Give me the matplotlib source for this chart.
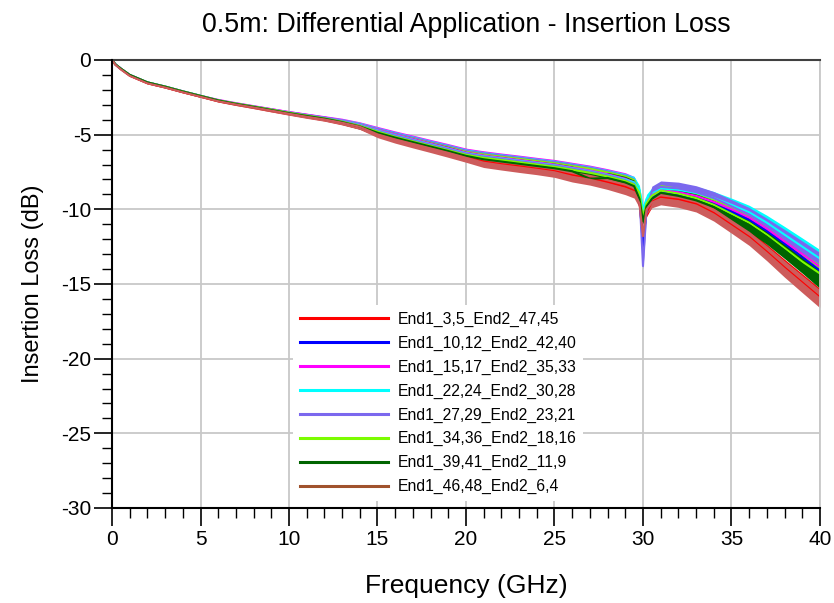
import numpy as np
import matplotlib
matplotlib.use("Agg")
import matplotlib.pyplot as plt
from matplotlib.lines import Line2D
from matplotlib.ticker import MultipleLocator

plt.rcParams['font.family'] = ['Liberation Sans', 'DejaVu Sans']
plt.rcParams['axes.unicode_minus'] = False

# frequency points (GHz) where the traces were read
freq = [0, 0.2, 0.5, 1, 2, 3, 4, 5, 6, 7, 8, 9, 10, 11, 12, 13, 14, 15, 16, 17, 18, 19, 20,
        21, 22, 23, 24, 25, 26, 27, 28, 29, 29.5, 29.8, 30, 30.2, 30.5, 31, 32, 33, 34, 35,
        36, 37, 38, 39, 40]

# half height of the ripple band (dB)
ripple = [0, 0.02, 0.03, 0.04, 0.05, 0.05, 0.05, 0.05, 0.06, 0.07, 0.08, 0.09, 0.1, 0.11, 0.12,
          0.15, 0.18, 0.22, 0.25, 0.27, 0.28, 0.3, 0.3, 0.32, 0.32, 0.33, 0.33, 0.34, 0.35, 0.36,
          0.37, 0.4, 0.4, 0.3, 0.2, 0.3, 0.35, 0.4, 0.42, 0.43, 0.44, 0.45, 0.47, 0.5, 0.55, 0.58, 0.6]

il_3_5 = [0, -0.32, -0.62, -1.05, -1.55, -1.83, -2.15, -2.45, -2.75, -2.97, -3.17, -3.38, -3.58,
          -3.77, -3.96, -4.18, -4.45, -4.9, -5.25, -5.55, -5.85, -6.15, -6.5, -6.8, -6.98, -7.12,
          -7.28, -7.45, -7.72, -7.92, -8.2, -8.5, -8.75, -9.5, -12.0, -10.2, -9.5, -9.2, -9.35,
          -9.65, -10.25, -11.05, -11.85, -12.85, -13.9, -14.9, -15.9]
il_10_12 = [0, -0.3, -0.58, -1.0, -1.5, -1.78, -2.1, -2.4, -2.7, -2.93, -3.13, -3.33, -3.54,
            -3.72, -3.9, -4.12, -4.4, -4.78, -5.12, -5.43, -5.73, -6.03, -6.33, -6.53, -6.68,
            -6.83, -6.98, -7.13, -7.33, -7.53, -7.8, -8.1, -8.35, -9.2, -12.5, -9.9, -9.2, -8.85,
            -9.0, -9.25, -9.65, -10.15, -10.7, -11.45, -12.3, -13.2, -14.1]
il_15_17 = [0, -0.3, -0.58, -1.0, -1.5, -1.78, -2.1, -2.4, -2.67, -2.89, -3.09, -3.29, -3.49,
            -3.67, -3.85, -4.05, -4.32, -4.67, -5.0, -5.3, -5.6, -5.9, -6.2, -6.4, -6.55, -6.7,
            -6.85, -7.0, -7.2, -7.4, -7.65, -7.95, -8.2, -8.9, -10.6, -9.5, -9.0, -8.7, -8.85,
            -9.1, -9.5, -10.0, -10.55, -11.3, -12.15, -13.0, -13.85]
il_22_24 = [0, -0.3, -0.58, -1.0, -1.5, -1.78, -2.1, -2.4, -2.7, -2.92, -3.12, -3.32, -3.52,
            -3.7, -3.88, -4.08, -4.35, -4.72, -5.05, -5.35, -5.65, -5.95, -6.25, -6.45, -6.6,
            -6.75, -6.9, -7.05, -7.25, -7.45, -7.7, -8.0, -8.2, -8.7, -10.0, -9.3, -8.9, -8.6,
            -8.7, -8.9, -9.25, -9.7, -10.2, -10.9, -11.7, -12.5, -13.3]
il_27_29 = [0, -0.3, -0.58, -1.0, -1.5, -1.78, -2.1, -2.4, -2.7, -2.92, -3.12, -3.32, -3.52,
            -3.7, -3.88, -4.1, -4.38, -4.75, -5.08, -5.38, -5.68, -5.98, -6.28, -6.48, -6.63,
            -6.78, -6.93, -7.08, -7.28, -7.48, -7.73, -8.05, -8.3, -9.0, -13.8, -10.0, -8.8, -8.5,
            -8.6, -8.85, -9.25, -9.8, -10.35, -11.1, -11.9, -12.7, -13.5]
il_34_36 = [0, -0.3, -0.58, -1.0, -1.5, -1.78, -2.1, -2.4, -2.7, -2.92, -3.12, -3.32, -3.53,
            -3.72, -3.91, -4.13, -4.41, -4.8, -5.15, -5.45, -5.75, -6.05, -6.35, -6.55, -6.7,
            -6.85, -7.0, -7.15, -7.35, -7.55, -7.8, -8.1, -8.35, -8.9, -10.5, -9.6, -9.1, -8.75,
            -8.95, -9.25, -9.7, -10.3, -10.9, -11.7, -12.6, -13.5, -14.3]
il_39_41 = [0, -0.3, -0.58, -1.0, -1.5, -1.79, -2.11, -2.41, -2.71, -2.94, -3.14, -3.35, -3.56,
            -3.75, -3.93, -4.16, -4.45, -4.87, -5.2, -5.5, -5.8, -6.1, -6.42, -6.65, -6.8, -6.95,
            -7.1, -7.25, -7.45, -7.95, -7.9, -8.2, -8.45, -9.3, -10.8, -9.8, -9.3, -8.9, -9.1,
            -9.4, -9.85, -10.45, -11.05, -11.85, -12.75, -13.7, -14.7]
il_46_48 = [0, -0.33, -0.63, -1.06, -1.56, -1.84, -2.16, -2.46, -2.76, -2.98, -3.18, -3.39, -3.6,
            -3.8, -3.98, -4.2, -4.47, -4.98, -5.32, -5.62, -5.92, -6.22, -6.55, -6.88, -7.05, -7.2,
            -7.35, -7.52, -7.82, -8.02, -8.3, -8.62, -8.85, -9.6, -11.8, -10.0, -9.55, -9.3, -9.45,
            -9.75, -10.35, -11.15, -11.95, -12.95, -14.0, -15.0, -16.0]

names = ["End1_3,5_End2_47,45", "End1_10,12_End2_42,40", "End1_15,17_End2_35,33",
         "End1_22,24_End2_30,28", "End1_27,29_End2_23,21", "End1_34,36_End2_18,16",
         "End1_39,41_End2_11,9", "End1_46,48_End2_6,4"]
series = [il_3_5, il_10_12, il_15_17, il_22_24, il_27_29, il_34_36, il_39_41, il_46_48]
colors = ["#ff0000", "#0000ff", "#ff00ff", "#00ffff", "#7b68ee", "#7cfc00", "#006400", "#cd5c5c"]
legend_colors = ["#ff0000", "#0000ff", "#ff00ff", "#00ffff", "#7b68ee", "#7cfc00", "#006400", "#a0522d"]

fig = plt.figure(figsize=(8.34, 6.03), dpi=100)
ax = fig.add_axes([0.1343, 0.1576, 0.8489, 0.7429])

f = np.array(freq)
r = np.array(ripple)
for vals, c in zip(series, colors):
    v = np.array(vals)
    ax.fill_between(f, v - r, v + r, color=c, lw=0)
    ax.plot(f, v, color=c, lw=1.5)

ax.set_xlim(0, 40)
ax.set_ylim(-30, 0)
ax.xaxis.set_major_locator(MultipleLocator(5))
ax.xaxis.set_minor_locator(MultipleLocator(1))
ax.yaxis.set_major_locator(MultipleLocator(5))
ax.yaxis.set_minor_locator(MultipleLocator(1))
ax.tick_params(which="major", direction="out", length=13, width=1.2, labelsize=15, pad=3)
ax.tick_params(axis="y", which="major", pad=2)
ax.tick_params(which="minor", direction="out", length=7, width=1.0)
ax.grid(True, which="major", color="#c8c8c8", lw=1.3)
ax.set_axisbelow(True)
for s in ["left", "bottom"]:
    ax.spines[s].set_linewidth(1.5)
    ax.spines[s].set_zorder(6)
ax.spines["top"].set_color("#404040")
ax.spines["top"].set_linewidth(1.5)
ax.spines["right"].set_color("#c8c8c8")
ax.spines["right"].set_linewidth(1.3)

ax.set_title("0.5m: Differential Application - Insertion Loss", fontsize=19.3, pad=20)
ax.set_xlabel("Frequency (GHz)", fontsize=19, labelpad=18)
ax.set_ylabel("Insertion Loss (dB)", fontsize=17, labelpad=12)

handles = [Line2D([], [], color=c, lw=2.2) for c in legend_colors]
leg = ax.legend(handles, names, loc="upper left", bbox_to_anchor=(0.2557, 0.454),
                borderaxespad=0, fontsize=11.3, handlelength=5.6, handletextpad=0.6,
                labelspacing=0.56, frameon=True, fancybox=False, borderpad=0.45)
leg.get_frame().set_facecolor("white")
leg.get_frame().set_edgecolor("none")
leg.get_frame().set_alpha(1)

fig.savefig("out.png", dpi=100)
